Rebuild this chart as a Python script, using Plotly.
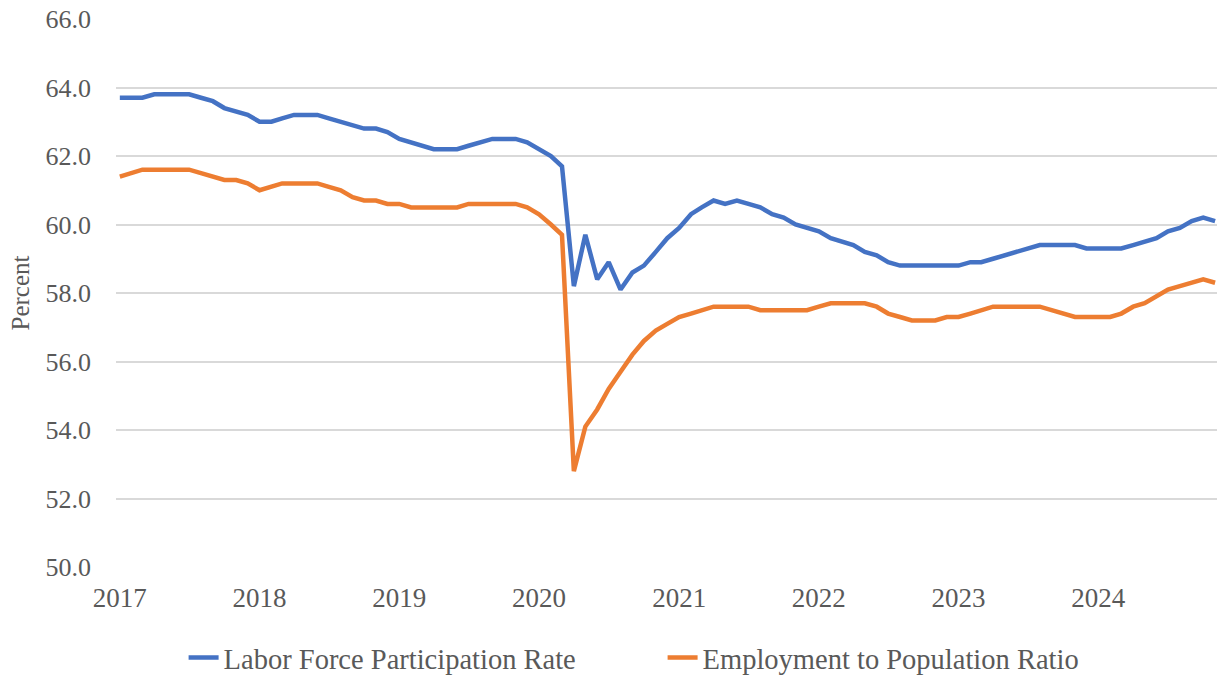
import plotly.graph_objects as go
import pandas as pd

start_month = "2017-01-01"
lfpr = [
    63.7, 63.7, 63.7, 63.8, 63.8, 63.8, 63.8, 63.7, 63.6, 63.4, 63.3, 63.2,
    63.0, 63.0, 63.1, 63.2, 63.2, 63.2, 63.1, 63.0, 62.9, 62.8, 62.8, 62.7,
    62.5, 62.4, 62.3, 62.2, 62.2, 62.2, 62.3, 62.4, 62.5, 62.5, 62.5, 62.4,
    62.2, 62.0, 61.7, 58.2, 59.7, 58.4, 58.9, 58.1, 58.6, 58.8, 59.2, 59.6,
    59.9, 60.3, 60.5, 60.7, 60.6, 60.7, 60.6, 60.5, 60.3, 60.2, 60.0, 59.9,
    59.8, 59.6, 59.5, 59.4, 59.2, 59.1, 58.9, 58.8, 58.8, 58.8, 58.8, 58.8,
    58.8, 58.9, 58.9, 59.0, 59.1, 59.2, 59.3, 59.4, 59.4, 59.4, 59.4, 59.3,
    59.3, 59.3, 59.3, 59.4, 59.5, 59.6, 59.8, 59.9, 60.1, 60.2, 60.1,
]
epop = [
    61.4, 61.5, 61.6, 61.6, 61.6, 61.6, 61.6, 61.5, 61.4, 61.3, 61.3, 61.2,
    61.0, 61.1, 61.2, 61.2, 61.2, 61.2, 61.1, 61.0, 60.8, 60.7, 60.7, 60.6,
    60.6, 60.5, 60.5, 60.5, 60.5, 60.5, 60.6, 60.6, 60.6, 60.6, 60.6, 60.5,
    60.3, 60.0, 59.7, 52.8, 54.1, 54.6, 55.2, 55.7, 56.2, 56.6, 56.9, 57.1,
    57.3, 57.4, 57.5, 57.6, 57.6, 57.6, 57.6, 57.5, 57.5, 57.5, 57.5, 57.5,
    57.6, 57.7, 57.7, 57.7, 57.7, 57.6, 57.4, 57.3, 57.2, 57.2, 57.2, 57.3,
    57.3, 57.4, 57.5, 57.6, 57.6, 57.6, 57.6, 57.6, 57.5, 57.4, 57.3, 57.3,
    57.3, 57.3, 57.4, 57.6, 57.7, 57.9, 58.1, 58.2, 58.3, 58.4, 58.3,
]
series_names = ["Labor Force Participation Rate", "Employment to Population Ratio"]
series_colors = ["#4472C4", "#ED7D31"]
y_title = "Percent"

dates = pd.date_range(start_month, periods=len(lfpr), freq="MS")

FONT = "Liberation Serif, Times New Roman, serif"
TXT = "#595959"

fig = go.Figure()
for name, vals, col in zip(series_names, [lfpr, epop], series_colors):
    fig.add_trace(go.Scatter(
        x=dates, y=vals, mode="lines", name=name,
        line=dict(color=col, width=4.5),
    ))

fig.update_layout(
    width=1217, height=677,
    margin=dict(l=116, r=0, t=19, b=110, autoexpand=False),
    paper_bgcolor="white", plot_bgcolor="white",
    font=dict(family=FONT, color=TXT, size=27),
    showlegend=True,
    legend=dict(
        orientation="h", x=0.0614, xanchor="left", y=-0.166, yanchor="middle",
        font=dict(size=28.5, color=TXT), bgcolor="rgba(0,0,0,0)",
        entrywidth=434, entrywidthmode="pixels", tracegroupgap=0,
    ),
    xaxis=dict(
        type="date", range=["2016-12-22", "2024-11-06"],
        tick0="2017-01-01", dtick="M12", tickformat="%Y",
        showgrid=False, zeroline=False, showline=False,
        ticks="", ticklabelstandoff=12, automargin=False,
        tickfont=dict(size=27, color=TXT),
    ),
    yaxis=dict(
        range=[50, 66], dtick=2, tick0=50, tickformat=".1f",
        showgrid=True, gridcolor="#D9D9D9", gridwidth=1.5,
        zeroline=False, showline=False, ticks="", ticklabelstandoff=24,
        automargin=False,
        tickfont=dict(size=26, color=TXT),
        title=dict(text=y_title, font=dict(size=25, color=TXT), standoff=8),
    ),
)

fig.write_html("out.html", config={"displayModeBar": False})
with open("out.html", "r", encoding="utf-8") as f:
    html = f.read()
html = html.replace("<body>", '<body style="margin:0;padding:0;">', 1)
with open("out.html", "w", encoding="utf-8") as f:
    f.write(html)
